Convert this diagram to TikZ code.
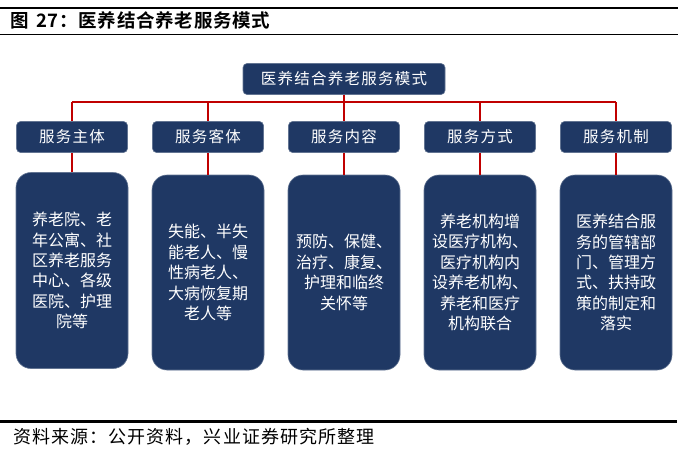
\documentclass[tikz,border=0pt]{standalone}
\usepackage{fontspec}
\newfontfamily\cjk{Noto Sans CJK SC}
\newfontfamily\cjkb[LetterSpace=4]{Noto Sans CJK SC Bold}
\newfontfamily\cjksp[LetterSpace=8]{Noto Sans CJK SC}
\newfontfamily\cjksrc[LetterSpace=6]{Noto Sans CJK SC}
\definecolor{navy}{RGB}{31,56,100}
\definecolor{redline}{RGB}{192,0,0}
\begin{document}
\begin{tikzpicture}[x=1pt,y=-1pt,
  topbox/.style={fill=navy,draw=navy!70!white,line width=0.6pt,rounded corners=4pt,minimum width=202pt,minimum height=31pt,text=white,font=\cjksp\fontsize{15.5}{15.5}\selectfont,inner sep=0pt},
  midbox/.style={fill=navy,draw=navy!70!white,line width=0.6pt,rounded corners=4pt,minimum width=111pt,minimum height=31pt,text=white,font=\cjksp\fontsize{15.5}{15.5}\selectfont,inner sep=0pt},
  bigbox/.style={fill=navy,draw=navy!70!white,line width=0.6pt,rounded corners=15pt,minimum width=112pt,minimum height=195pt,text=white,align=center,font=\cjk\fontsize{16}{20.4}\selectfont,inner sep=0pt},
  conn/.style={draw=redline,line width=1.8pt}
]
\useasboundingbox (0,0) rectangle (682,451);
% rules
\draw[line width=2.2pt] (0,8) -- (678,8);
\draw[line width=1pt] (0,34.5) -- (678,34.5);
\node[anchor=west,inner sep=0pt,font=\cjkb\fontsize{18.5}{18.5}\selectfont] (title) at (10,20.5) {图\hspace{0.4em}27：医养结合养老服务模式};
\draw[line width=2.2pt] (0,421.5) -- (677,421.5);
\node[anchor=west,inner sep=0pt,font=\cjksrc\fontsize{18}{18}\selectfont] (src) at (13,437) {资料来源：公开资料，兴业证券研究所整理};

% top
\node[topbox] (top) at (344,79) {医养结合养老服务模式};
\coordinate (bar) at (344,102);

% mid boxes
\foreach \i/\x/\t in {1/72/服务主体,2/208/服务客体,3/344/服务内容,4/480/服务方式,5/616/服务机制}{
  \node[midbox] (m\i) at (\x,137) {\t};
}
% big boxes
\node[bigbox,minimum height=196pt] (b1) at (72,270.5) {养老院、老\\年公寓、社\\区养老服务\\中心、各级\\医院、护理\\院等};
\node[bigbox] (b2) at (208,272.5) {失能、半失\\能老人、慢\\性病老人、\\大病恢复期\\老人等};
\node[bigbox] (b3) at (344,272.5) {预防、保健、\\治疗、康复、\\护理和临终\\关怀等};
\node[bigbox] (b4) at (480,272.5) {养老机构增\\设医疗机构、\\医疗机构内\\设养老机构、\\养老和医疗\\机构联合};
\node[bigbox] (b5) at (616,272.5) {医养结合服\\务的管辖部\\门、管理方\\式、扶持政\\策的制定和\\落实};

% connectors
\draw[conn] (top.south) -- (bar);
\draw[conn] (m1.north |- bar) -- (m5.north |- bar);
\foreach \i in {1,...,5}{
  \draw[conn] (m\i.north |- bar) -- (m\i.north);
  \draw[conn] (m\i.south) -- (b\i.north);
}
\end{tikzpicture}
\end{document}
